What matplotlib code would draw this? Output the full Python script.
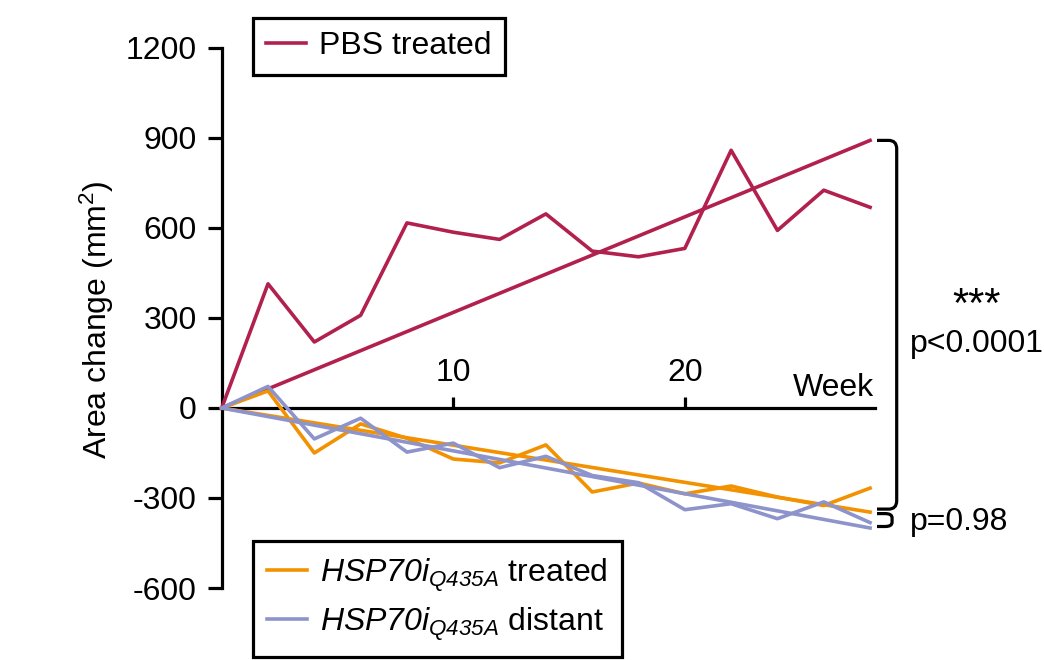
import matplotlib
matplotlib.use("Agg")
import matplotlib.pyplot as plt
from matplotlib.path import Path
from matplotlib.patches import PathPatch
from matplotlib.lines import Line2D

plt.rcParams['font.family'] = ['Liberation Sans', 'DejaVu Sans']
plt.rcParams['mathtext.fontset'] = 'custom'
plt.rcParams['mathtext.rm'] = 'Liberation Sans:italic'
plt.rcParams['mathtext.it'] = 'Liberation Sans:italic'
plt.rcParams['mathtext.bf'] = 'Liberation Sans:bold'

# ---------------- data ----------------
weeks = [0, 2, 4, 6, 8, 10, 12, 14, 16, 18, 20, 22, 24, 26, 28]
pbs = [0, 414, 220, 309, 617, 586, 562, 647, 523, 504, 532, 859, 592, 726, 669]
treated = [0, 57, -150, -53, -101, -170, -183, -123, -280, -250, -286, -260, -297, -325, -267]
distant = [0, 72, -103, -34, -147, -117, -199, -161, -225, -249, -339, -319, -369, -313, -382]

trend_weeks = [0, 28]
pbs_trend = [0, 892]
treated_trend = [0, -347]
distant_trend = [0, -400]

y_ticks = [-600, -300, 0, 300, 600, 900, 1200]
x_ticks = [10, 20]

labels = ['PBS treated',
          r'$HSP70i_{Q435A}$ treated',
          r'$HSP70i_{Q435A}$ distant']
y_label = r'Area change (mm$^\mathregular{2}$)'
p_main = 'p<0.0001'
stars = '***'
p_small = 'p=0.98'

# ---------------- style ----------------
C_PBS = '#B2214E'
C_TRT = '#F39200'
C_DIS = '#8D93CB'
LW = 2.6
FS = 23

fig = plt.figure(figsize=(10.44, 6.6), dpi=100)
ax = fig.add_axes([221.7 / 1044, 1 - 588 / 660, 653 / 1044, 540 / 660])

ax.plot(weeks, pbs, color=C_PBS, lw=LW, clip_on=False, zorder=3)
ax.plot(trend_weeks, pbs_trend, color=C_PBS, lw=LW, clip_on=False, zorder=3)
ax.plot(weeks, treated, color=C_TRT, lw=LW, clip_on=False, zorder=4)
ax.plot(trend_weeks, treated_trend, color=C_TRT, lw=LW, clip_on=False, zorder=4)
ax.plot(weeks, distant, color=C_DIS, lw=LW, clip_on=False, zorder=5)
ax.plot(trend_weeks, distant_trend, color=C_DIS, lw=LW, clip_on=False, zorder=5)

ax.set_xlim(0, 28.2)
ax.set_ylim(-600, 1200)

for s in ['right', 'bottom']:
    ax.spines[s].set_visible(False)
ax.spines['top'].set_position(('data', 0))
ax.spines['left'].set_linewidth(2.3)
ax.spines['top'].set_linewidth(2.3)
ax.spines['top'].set_zorder(2)

ax.xaxis.set_ticks_position('top')
ax.set_xticks(x_ticks)
ax.set_xticklabels([str(t) for t in x_ticks])
ax.tick_params(axis='x', direction='out', length=8, width=2.3, pad=6.5,
               labelsize=FS, colors='black')
ax.set_yticks(y_ticks)
ax.set_yticklabels([str(t) for t in y_ticks])
ax.tick_params(axis='y', direction='out', length=10, width=2.3, pad=8,
               labelsize=FS, colors='black')

ax.text(28.15, 40, 'Week', ha='right', va='baseline', fontsize=FS)

fig.text(97 / 1044, 1 - 320 / 660, y_label, rotation=90,
         ha='center', va='center', fontsize=FS)

# ---------------- brackets ----------------
def bracket(x0, x1, ytop, ybot, r_x, r_y):
    verts = [(x0, ytop), (x1 - r_x, ytop), (x1, ytop), (x1, ytop - r_y),
             (x1, ybot + r_y), (x1, ybot), (x1 - r_x, ybot), (x0, ybot)]
    codes = [Path.MOVETO, Path.LINETO, Path.CURVE3, Path.CURVE3,
             Path.LINETO, Path.CURVE3, Path.CURVE3, Path.LINETO]
    p = PathPatch(Path(verts, codes), fill=False, lw=2.3, ec='black',
                  clip_on=False, transform=ax.transData)
    ax.add_patch(p)

bracket(28.3, 29.15, pbs_trend[-1], treated_trend[-1] + 10, 0.35, 28)
bracket(28.3, 28.95, treated_trend[-1] - 5, distant_trend[-1] + 5, 0.3, 14)

ax.text(32.6, 305, stars, ha='center', va='baseline', fontsize=30)
ax.text(32.6, 186, p_main, ha='center', va='baseline', fontsize=FS)
ax.text(29.72, -408, p_small, ha='left', va='baseline', fontsize=FS)

# ---------------- legends ----------------
h_pbs = Line2D([], [], color=C_PBS, lw=LW)
h_trt = Line2D([], [], color=C_TRT, lw=LW)
h_dis = Line2D([], [], color=C_DIS, lw=LW)

common = dict(fontsize=FS, frameon=True, fancybox=False, framealpha=1,
              edgecolor='black', handlelength=1.25, handletextpad=0.4,
              borderaxespad=0)
leg1 = fig.legend([h_pbs], [labels[0]], loc='upper left', borderpad=0.42,
                  bbox_to_anchor=(253 / 1044, 1 - 18 / 660), **common)
leg1.get_frame().set_linewidth(2.3)
leg2 = fig.legend([h_trt, h_dis], labels[1:], loc='lower left',
                  bbox_to_anchor=(253 / 1044, 1 - 657 / 660), borderpad=0.45,
                  labelspacing=0.35, **common)
leg2.get_frame().set_linewidth(2.3)

fig.savefig('out.png', dpi=100)
